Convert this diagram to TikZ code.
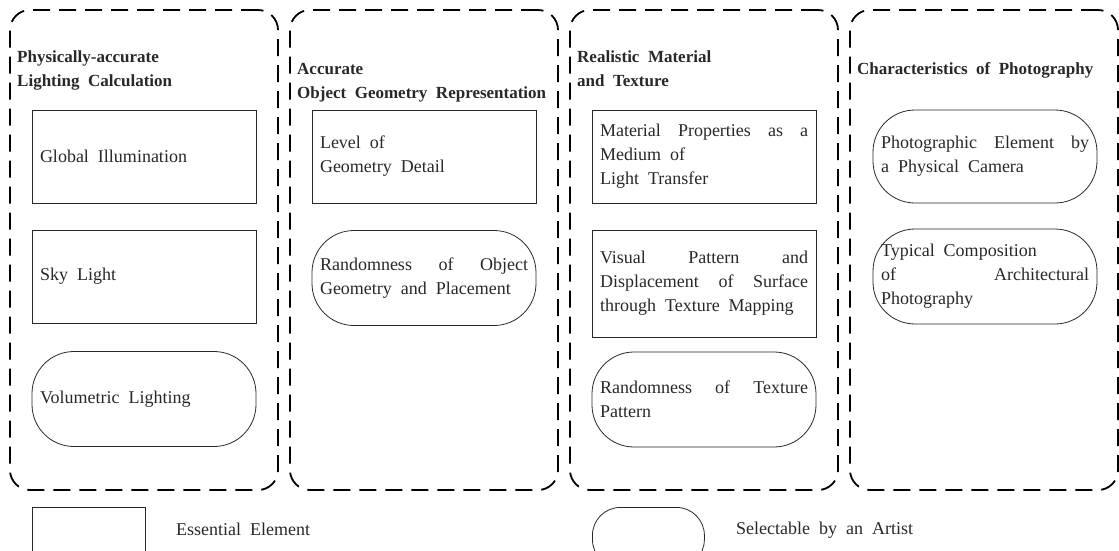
\documentclass[tikz,border=0pt]{standalone}
\usepackage{fontspec}
\setmainfont{Liberation Serif}
\usepackage{xcolor}
\definecolor{inkgray}{RGB}{40,40,40}
\hyphenpenalty=10000
\exhyphenpenalty=10000
\newcommand{\bodyfont}{\fontsize{18}{24}\selectfont\spaceskip=0.5em plus 0.6em minus 0.1em\relax}
\newcommand{\headfont}{\fontsize{17}{24}\selectfont\bfseries\spaceskip=0.5em plus 0.2em minus 0.1em\relax}

\begin{document}
\begin{tikzpicture}[
  x=1pt, y=-1pt,
  font=\bodyfont,
  group/.style={rectangle, rounded corners=20pt, draw=black, line width=1.8pt,
    dash pattern=on 17pt off 9pt, minimum width=268pt, minimum height=480pt},
  head/.style={anchor=base west, align=left, inner sep=0pt, text=inkgray, font=\headfont},
  essential/.style={rectangle, draw=inkgray, line width=0.8pt, text width=208pt,
    inner sep=8pt, minimum height=93pt, align=justify, text=inkgray},
  selectable/.style={essential, rounded corners=42pt},
  legtxt/.style={anchor=base west, inner sep=0pt, text=inkgray}
]
\useasboundingbox (0,0) rectangle (1119,550);
\clip (0,0) rectangle (1119,550);
\node[group] (colA) at (144,250) {};
\node[group] (colB) at (424,250) {};
\node[group] (colC) at (704,250) {};
\node[group] (colD) at (984,250) {};
\node[head] (headA) at (17,86) {Physically-accurate\\Lighting Calculation};
\node[head] (headB) at (297,98) {Accurate\\Object Geometry Representation};
\node[head] (headC) at (577,86) {Realistic Material\\and Texture};
\node[head] (headD) at (857,74) {Characteristics of Photography};
\node[essential] (globill) at (144,156.5) {Global Illumination};
\node[essential] (skylight) at (144,276.5) {Sky Light};
\node[selectable, minimum height=95pt] (vollight) at (144,399) {Volumetric Lighting};
\node[essential] (geodetail) at (424,156.5) {Level of\\Geometry Detail};
\node[selectable, minimum height=95pt] (randobj) at (424,278) {Randomness of Object\linebreak Geometry and Placement};
\node[essential] (matprop) at (704,156.5) {Material Properties as a\linebreak Medium of\\Light Transfer};
\node[essential, minimum height=107pt] (texmap) at (704,283.5) {Visual Pattern and\linebreak Displacement of Surface\linebreak through Texture Mapping};
\node[selectable, minimum height=95pt] (randtex) at (704,399.5) {Randomness of Texture\linebreak Pattern};
\node[selectable, minimum height=93pt] (photoel) at (985,156.5) {Photographic Element by\linebreak a Physical Camera};
\node[selectable, minimum height=95pt] (archcomp) at (985,276.5) {Typical Composition\\of Architectural Photography};
\node[essential, text width=97pt, minimum height=60pt, anchor=north west] (keyess) at (32,507) {};
\node[legtxt] (keyesstxt) at (176,535) {Essential Element};
\node[selectable, text width=96pt, minimum height=60pt, rounded corners=28pt, anchor=north west] (keysel) at (592,507) {};
\node[legtxt] (keyseltxt) at (736,534) {Selectable by an Artist};
\end{tikzpicture}
\end{document}
